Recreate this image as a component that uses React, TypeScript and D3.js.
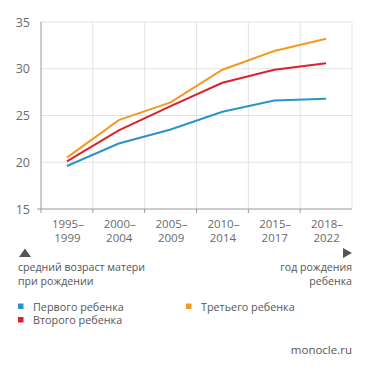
import React, { useEffect, useRef } from 'react'
import * as d3 from 'd3'

// средний возраст матери при рождении ребенка
const periods = ['1995–1999', '2000–2004', '2005–2009', '2010–2014', '2015–2017', '2018–2022']
const firstChild = [19.6, 22.0, 23.5, 25.4, 26.6, 26.8]
const secondChild = [20.1, 23.4, 26.0, 28.5, 29.9, 30.6]
const thirdChild = [20.5, 24.5, 26.4, 29.9, 31.9, 33.2]
const yTicks = [15, 20, 25, 30, 35]

const seriesNames = ['Первого ребенка', 'Второго ребенка', 'Третьего ребенка']
const seriesColors = ['#2b93cc', '#d9222e', '#f39a1f']

const W = 371
const H = 371
const FONT = "'Open Sans', 'DejaVu Sans', sans-serif"

const App = () => {
  const ref = useRef<SVGSVGElement>(null)

  useEffect(() => {
    const svg = d3.select(ref.current)
    svg.selectAll('*').remove()

    const left = 41
    const right = 352
    const top = 22
    const bottom = 209

    const x = d3.scaleBand().domain(periods).range([left, right])
    const y = d3.scaleLinear().domain([15, 35]).range([bottom, top])

    const g = svg.append('g')

    // vertical grid at band edges
    const edges = periods.map((p) => x(p) as number).concat([right])
    g.selectAll('line.vgrid')
      .data(edges.slice(1))
      .enter()
      .append('line')
      .attr('x1', (d) => d)
      .attr('x2', (d) => d)
      .attr('y1', top)
      .attr('y2', bottom)
      .attr('stroke', '#e3e3e3')
      .attr('stroke-width', 1)

    // horizontal grid
    g.selectAll('line.hgrid')
      .data(yTicks.filter((t) => t > 15))
      .enter()
      .append('line')
      .attr('x1', left)
      .attr('x2', right)
      .attr('y1', (d) => y(d))
      .attr('y2', (d) => y(d))
      .attr('stroke', '#e3e3e3')
      .attr('stroke-width', 1)

    // axes lines
    g.append('line')
      .attr('x1', left).attr('x2', left)
      .attr('y1', top).attr('y2', bottom + 4)
      .attr('stroke', '#9a9a9a')
    g.append('line')
      .attr('x1', left - 4).attr('x2', right)
      .attr('y1', bottom).attr('y2', bottom)
      .attr('stroke', '#9a9a9a')
    g.selectAll('line.xtick')
      .data(edges.slice(1, -1))
      .enter()
      .append('line')
      .attr('x1', (d) => d).attr('x2', (d) => d)
      .attr('y1', bottom).attr('y2', bottom + 4)
      .attr('stroke', '#9a9a9a')

    // y tick labels
    g.selectAll('text.ytick')
      .data(yTicks)
      .enter()
      .append('text')
      .attr('x', 30)
      .attr('y', (d) => y(d) + 4.5)
      .attr('text-anchor', 'end')
      .attr('font-family', FONT)
      .attr('font-size', 12.5)
      .attr('fill', '#6a6a6a')
      .text((d) => d)

    // x tick labels, two lines
    const xl = g.selectAll('text.xtick')
      .data(periods)
      .enter()
      .append('text')
      .attr('text-anchor', 'middle')
      .attr('font-family', FONT)
      .attr('font-size', 11.5)
      .attr('fill', '#6a6a6a')
    xl.append('tspan')
      .attr('x', (d) => (x(d) as number) + x.bandwidth() / 2 + 1)
      .attr('y', 228)
      .text((d) => d.split('–')[0] + '–')
    xl.append('tspan')
      .attr('x', (d) => (x(d) as number) + x.bandwidth() / 2 + 0.5)
      .attr('y', 242)
      .text((d) => d.split('–')[1])

    // lines
    const line = d3.line<number>()
      .x((d, i) => (x(periods[i]) as number) + x.bandwidth() / 2)
      .y((d) => y(d))
    const allSeries = [firstChild, secondChild, thirdChild]
    // draw order: blue, orange, red on top
    ;[0, 2, 1].forEach((k) => {
      g.append('path')
        .attr('d', line(allSeries[k]))
        .attr('fill', 'none')
        .attr('stroke', seriesColors[k])
        .attr('stroke-width', 2)
    })

    // axis annotations
    g.append('path')
      .attr('d', 'M19,257 L25,248.5 L31,257 Z')
      .attr('fill', '#555')
    g.append('path')
      .attr('d', 'M343,248 L352,253 L343,258 Z')
      .attr('fill', '#555')
    const ann = [
      { t: 'средний возраст матери', x: 18, y: 271, a: 'start' },
      { t: 'при рождении', x: 18, y: 284.5, a: 'start' },
      { t: 'год рождения', x: 352, y: 271, a: 'end' },
      { t: 'ребенка', x: 352, y: 284.5, a: 'end' }
    ]
    g.selectAll('text.ann')
      .data(ann)
      .enter()
      .append('text')
      .attr('x', (d) => d.x)
      .attr('y', (d) => d.y)
      .attr('text-anchor', (d) => d.a)
      .attr('font-family', FONT)
      .attr('font-size', 10.6)
      .attr('fill', '#555')
      .text((d) => d.t)

    // legend
    const legendPos = [
      { x: 18, y: 310.5 },
      { x: 18, y: 324 },
      { x: 186, y: 310.5 }
    ]
    seriesNames.forEach((name, i) => {
      const p = legendPos[i]
      g.append('rect')
        .attr('x', p.x)
        .attr('y', p.y - 7)
        .attr('width', 5.5)
        .attr('height', 5.5)
        .attr('fill', seriesColors[i])
      g.append('text')
        .attr('x', p.x + 15)
        .attr('y', p.y)
        .attr('font-family', FONT)
        .attr('font-size', 10.8)
        .attr('fill', '#555')
        .text(name)
    })

    g.append('text')
      .attr('x', 352)
      .attr('y', 354)
      .attr('text-anchor', 'end')
      .attr('font-family', FONT)
      .attr('font-size', 11.5)
      .attr('fill', '#555')
      .text('monocle.ru')
  }, [])

  return (
    <svg
      ref={ref}
      width={W}
      height={H}
      style={{ position: 'absolute', left: 0, top: 0, background: '#fff' }}
    />
  )
}

export default App
